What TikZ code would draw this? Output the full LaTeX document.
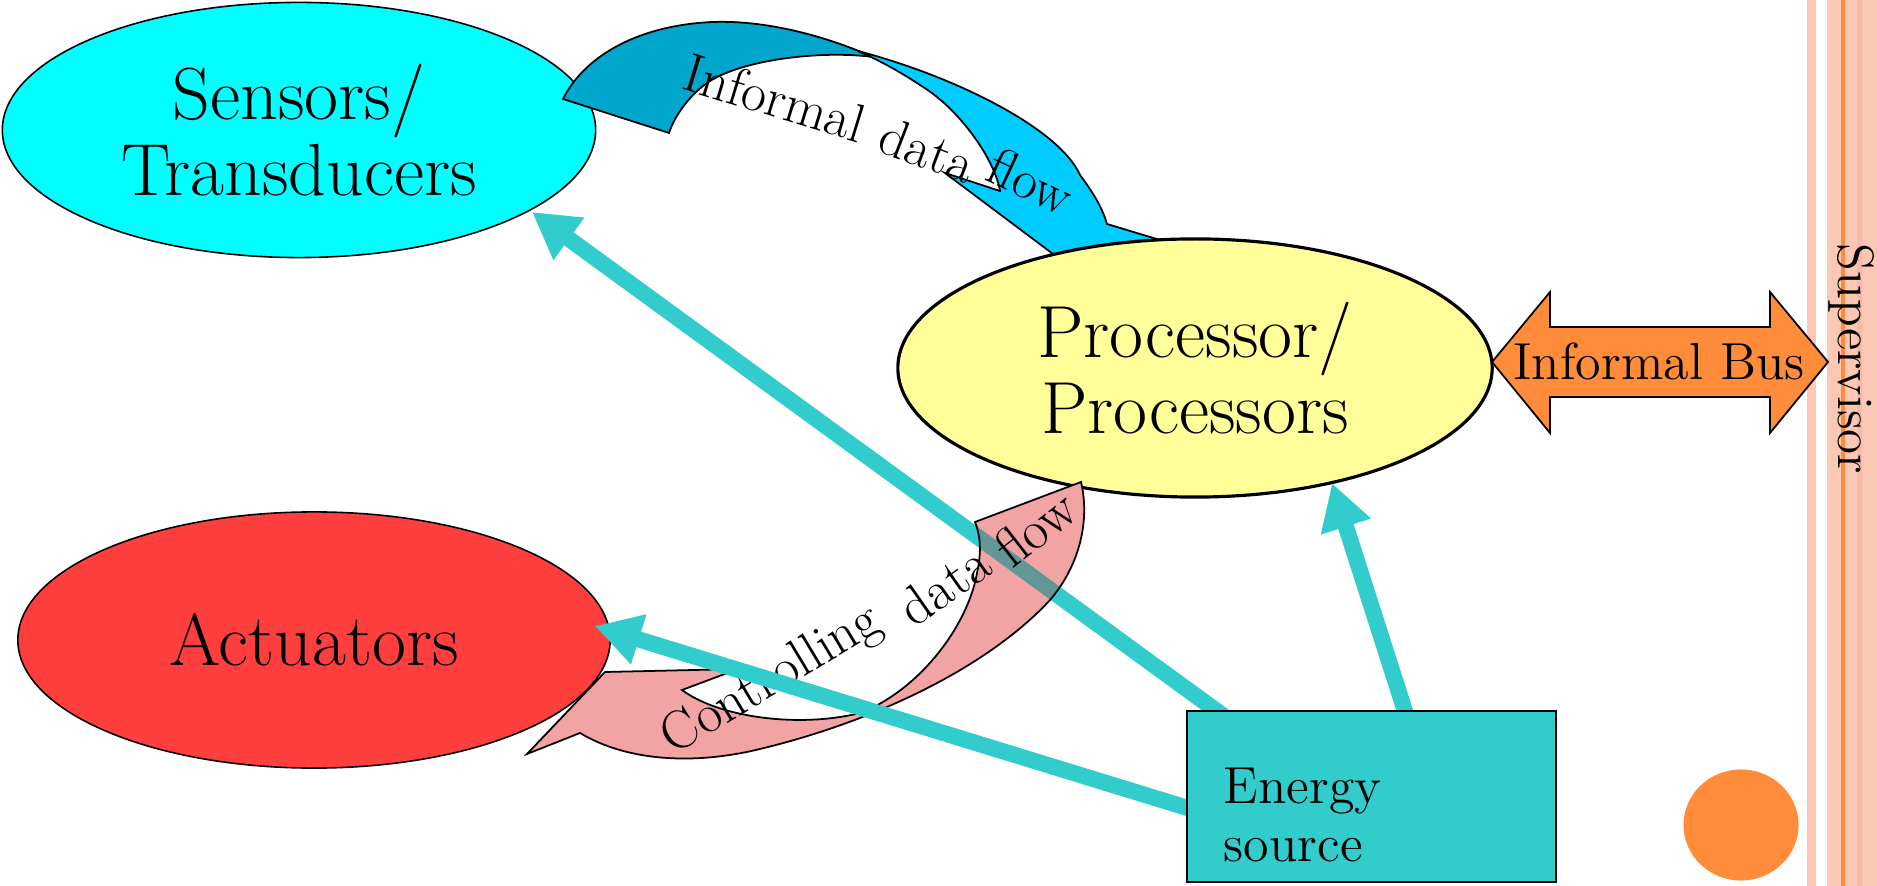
\documentclass[tikz,border=0pt]{standalone}
\usetikzlibrary{shapes.geometric,arrows.meta}
\definecolor{cyanS}{RGB}{0,255,255}
\definecolor{yellowP}{RGB}{255,255,153}
\definecolor{redA}{RGB}{255,62,62}
\definecolor{pinkC}{RGB}{242,163,163}
\definecolor{blueD}{RGB}{0,166,204}
\definecolor{blueL}{RGB}{0,204,255}
\definecolor{tealE}{RGB}{51,204,204}
\definecolor{overC}{RGB}{100,150,150}
\definecolor{orangeB}{RGB}{255,140,58}
\definecolor{salmon}{RGB}{251,200,181}
\definecolor{salmonD}{RGB}{248,186,166}
\newcommand\CtrlArrowPath{(1081,482) .. controls (1090,520) and (1080,565) .. (1050,600)
  .. controls (990,665) and (880,720) .. (760,749)
  .. controls (690,766) and (625,760) .. (580,733)
  -- (527,754) -- (605,672) -- (738,669) -- (682,690)
  .. controls (720,718) and (800,728) .. (860,713)
  .. controls (920,690) and (968,625) .. (977,573)
  .. controls (982,550) and (980,535) .. (975,522) -- cycle}
\begin{document}
\begin{tikzpicture}[x=0.01cm,y=-0.01cm,
  every node/.style={inner sep=0pt},
  ell/.style={ellipse, draw=black, line width=0.45pt, inner sep=0pt, align=center,
    font=\fontsize{21}{21.6}\selectfont},
  earrow/.style={line width=4.6pt, draw=tealE, -{Triangle[width=14pt,length=13pt]}},
  blockarrow/.style={draw=black, line width=0.5pt, line join=miter},
  lbl/.style={font=\fontsize{14.8}{16.5}\selectfont},
  flowword/.style={font=\fontsize{15.5}{18}\selectfont}]
\useasboundingbox (0,0) rectangle (1877,886);
% supervisor stripes
\fill[salmon] (1807,0) rectangle (1816,886);
\fill[salmon] (1827,0) rectangle (1877,886);
\fill[salmonD] (1857,0) rectangle (1862,886);
\fill[orangeB] (1841,0) rectangle (1844.5,886);
\node[font=\fontsize{14.5}{16}\selectfont, rotate=-90, anchor=base west] (sup) at (1838,243) {Supervisor};
% sensors
\node[ell, fill=cyanS, minimum width=5.93cm, minimum height=2.55cm] (S) at (299,130) {Sensors/\\Transducers};
% informal data flow arrow
\path[blockarrow, fill=blueD] (563,99) .. controls (585,55) and (640,25) .. (713,22)
  .. controls (770,20) and (830,38) .. (873,57)
  .. controls (820,50) and (740,60) .. (707,83)
  .. controls (690,95) and (675,115) .. (669,133) -- cycle;
\path[blockarrow, fill=blueL] (858,51) .. controls (960,78) and (1060,130) .. (1080,175)
  .. controls (1095,195) and (1103,210) .. (1107,224)
  -- (1160,240) -- (1085,278) -- (945,173) -- (1000,191)
  .. controls (995,160) and (960,110) .. (923,87)
  .. controls (905,75) and (885,63) .. (858,51) -- cycle;
% processor
\node[ell, fill=yellowP, line width=0.9pt, minimum width=5.94cm, minimum height=2.58cm] (P) at (1195,368) {Processor/\\Processors};
\node[flowword, rotate=-17] (if1) at (775,98) {Informal};
\node[flowword, rotate=-21] (if2) at (928,150) {data};
\node[flowword, rotate=-25] (if3) at (1031,181) {flow};
% actuators
\node[ell, fill=redA, minimum width=5.92cm, minimum height=2.56cm] (A) at (314,640) {Actuators};
% energy connectors
\coordinate (e1s) at (1240,728);
\coordinate (e1t) at (532,212);
\coordinate (e2s) at (1410,727);
\coordinate (e2t) at (1332,483);
\coordinate (e3s) at (1230,821);
\coordinate (e3t) at (595,626);
\draw[earrow] (e1s) -- (e1t);
% controlling data flow arrow
\fill[pinkC] \CtrlArrowPath;
\begin{scope}
  \clip \CtrlArrowPath;
  \draw[line width=4.6pt, draw=overC] (e1s) -- (e1t);
\end{scope}
\draw[blockarrow] \CtrlArrowPath;
\node[flowword, rotate=31] (cf1) at (772,681) {Controlling};
\node[flowword, rotate=35] (cf2) at (944,585) {data};
\node[flowword, rotate=38] (cf3) at (1035,528) {flow};
\draw[earrow] (e3s) -- (e3t);
\draw[earrow] (e2s) -- (e2t);
% energy source
\node[draw=black, line width=0.6pt, fill=tealE, minimum width=3.69cm, minimum height=1.71cm] (E) at (1371.5,796.5) {};
\node[lbl, anchor=base west] (Et1) at (1223,803) {Energy};
\node[lbl, anchor=base west] (Et2) at (1223,861) {source};
% informal bus
\path[blockarrow, fill=orangeB] (1492,362) -- (1550,292) -- (1550,327) -- (1770,327) -- (1770,292)
  -- (1828,362) -- (1770,433) -- (1770,397) -- (1550,397) -- (1550,433) -- cycle;
\node[lbl, anchor=base] (bus) at (1659,380) {Informal Bus};
% orange dot
\node[ellipse, fill=orangeB, minimum width=1.15cm, minimum height=1.11cm] (dot) at (1741,825) {};
\end{tikzpicture}
\end{document}
